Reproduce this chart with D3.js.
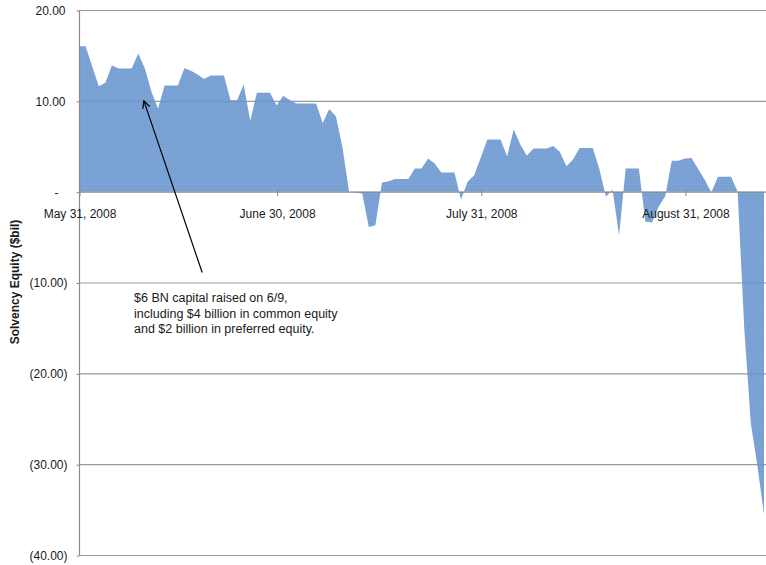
<!DOCTYPE html>
<html>
<head>
<meta charset="utf-8">
<script src="https://cdn.jsdelivr.net/npm/d3@7"></script>
<style>
    body { margin: 0; background: #fff; }
    text { font-family: "Liberation Sans", Arial, sans-serif; fill: #1a1a1a; }
</style>
</head>
<body>
<svg id="solvency-chart"></svg>
<script>
const CHART_WIDTH = 766;
const CHART_HEIGHT = 565;

const PADDING = {
    top: 10,
    bottom: 10,
    start: 79,
    end: 2
};

const DAY_MS = 864e5;

// one value per calendar day, starting May 31, 2008
const START_DATE = "2008-05-31";
const SOLVENCY_EQUITY = [
    16.0, 16.0, 13.8, 11.6, 12.0, 13.9, 13.55, 13.55, 13.55, 15.2,
    13.55, 11.0, 9.15, 11.7, 11.7, 11.7, 13.6, 13.3, 12.9, 12.4,
    12.8, 12.8, 12.8, 10.07, 10.07, 11.8, 7.8, 10.9, 10.9, 10.9,
    9.5, 10.55, 10.1, 9.7, 9.7, 9.7, 9.7, 7.57, 9.1, 8.3,
    4.9, 0.0, -0.1, -0.2, -3.9, -3.7, 1.0, 1.15, 1.4, 1.4,
    1.4, 2.55, 2.55, 3.65, 3.1, 2.1, 2.1, 2.1, -0.86, 1.08,
    1.8, 3.77, 5.74, 5.74, 5.74, 3.9, 6.84, 5.2, 3.95, 4.75,
    4.75, 4.75, 5.04, 4.4, 2.8, 3.54, 4.82, 4.82, 4.82, 2.5,
    -0.57, 0.24, -4.8, 2.55, 2.55, 2.55, -3.3, -3.4, -1.67, -0.5,
    3.39, 3.39, 3.65, 3.7, 2.5, 1.3, -0.1, 1.63, 1.63, 1.63,
    0.0, -15.0, -25.5, -30.2, -35.5
];

const X_TICK_DATES = ["2008-05-31", "2008-06-30", "2008-07-31", "2008-08-31"];
const Y_TICKS = [20, 10, 0, -10, -20, -30, -40];

const ANNOTATION_LINES = [
    "$6 BN capital raised on 6/9,",
    "including $4 billion in common equity",
    "and $2 billion in preferred equity."
];

const parseDate = d3.utcParse("%Y-%m-%d");
const startDate = parseDate(START_DATE);

const chartData = SOLVENCY_EQUITY.map((value, index) => ({
    date: d3.utcDay.offset(startDate, index),
    value: value
}));

function dayAt(days) {
    return new Date(startDate.getTime() + days * DAY_MS);
}

function formatAccounting(value) {
    if (value === 0) return "-";
    const text = d3.format(",.2f")(Math.abs(value));
    return value < 0 ? `(${text})` : text;
}

function renderChart() {
    const svg = d3.select("#solvency-chart")
        .attr("width", CHART_WIDTH)
        .attr("height", CHART_HEIGHT);

    const xScale = d3.scaleUtc()
        .domain(d3.extent(chartData, data => data.date))
        .range([PADDING.start, 764]);

    const yScale = d3.scaleLinear()
        .domain([-40, 20])
        .range([555, PADDING.top]);

    // fine mesh texture like the original fill
    const defs = svg.append("defs");
    const pattern = defs.append("pattern")
        .attr("id", "mesh")
        .attr("patternUnits", "userSpaceOnUse")
        .attr("width", 3)
        .attr("height", 3);
    pattern.append("rect")
        .attr("width", 3)
        .attr("height", 3)
        .attr("fill", "#6a97d0");
    pattern.append("path")
        .attr("d", "M0,0.5H3M0.5,0V3")
        .attr("stroke", "#5c8bc8")
        .attr("stroke-width", 1)
        .attr("stroke-opacity", 0.35);

    // gridlines
    svg.append("g")
        .classed("grid", true)
        .selectAll("line")
        .data(Y_TICKS.filter(tick => tick !== 0))
        .join("line")
            .attr("x1", PADDING.start)
            .attr("x2", CHART_WIDTH)
            .attr("y1", data => yScale(data) + 0.5)
            .attr("y2", data => yScale(data) + 0.5)
            .attr("stroke", "#9a9a9a")
            .attr("stroke-width", 1.2);

    const area = d3.area()
        .x(data => xScale(data.date))
        .y0(yScale(0))
        .y1(data => yScale(data.value));

    svg.append("path")
        .datum(chartData)
        .attr("d", area)
        .attr("fill", "url(#mesh)")
        .attr("fill-opacity", 0.88);

    // y axis
    const yAxis = d3.axisLeft(yScale)
        .tickValues(Y_TICKS)
        .tickSize(3)
        .tickPadding(11)
        .tickFormat(formatAccounting);

    const yAxisGroup = svg.append("g")
        .classed("y-axis", true)
        .attr("transform", `translate(${PADDING.start + 0.5}, 0.5)`)
        .call(yAxis);
    yAxisGroup.select(".domain")
        .attr("d", `M0,${yScale(20)}V${yScale(-40)}`)
        .attr("stroke", "#8c8c8c")
        .attr("stroke-width", 1.2);
    yAxisGroup.selectAll(".tick line")
        .attr("stroke", "#8c8c8c");
    yAxisGroup.selectAll(".tick text")
        .attr("x", data => data > 0 ? -14 : (data === 0 ? -21 : -12))
        .style("font-size", "12px")
        .style("font-family", "Liberation Sans, Arial, sans-serif")
        .attr("fill", "#1a1a1a");

    // x axis sits on zero
    const xAxis = d3.axisBottom(xScale)
        .tickValues(X_TICK_DATES.map(parseDate))
        .tickSize(4)
        .tickPadding(13)
        .tickFormat(d3.utcFormat("%B %-d, %Y"));

    const xAxisGroup = svg.append("g")
        .classed("x-axis", true)
        .attr("transform", `translate(0.5, ${yScale(0) + 0.5})`)
        .call(xAxis);
    xAxisGroup.select(".domain")
        .attr("d", `M${PADDING.start},0H${CHART_WIDTH}`)
        .attr("stroke", "#8c8c8c")
        .attr("stroke-width", 1.2);
    xAxisGroup.selectAll(".tick line")
        .attr("y1", -3)
        .attr("stroke", "#8c8c8c");
    xAxisGroup.selectAll(".tick text")
        .style("font-size", "12px")
        .style("font-family", "Liberation Sans, Arial, sans-serif")
        .attr("fill", "#1a1a1a");

    svg.append("text")
        .attr("transform", "rotate(-90)")
        .attr("x", -282)
        .attr("y", 19)
        .style("text-anchor", "middle")
        .style("font-size", "12px")
        .style("font-weight", "bold")
        .text("Solvency Equity ($bil)");

    // annotation arrow from the note up to the 6/9 capital raise
    const tip = [xScale(dayAt(9.85)), yScale(10.0)];
    const tail = [xScale(dayAt(18.7)), yScale(-8.9)];

    defs.append("marker")
        .attr("id", "arrow-head")
        .attr("viewBox", "0 0 10 10")
        .attr("refX", 9)
        .attr("refY", 5)
        .attr("markerWidth", 9)
        .attr("markerHeight", 9)
        .attr("markerUnits", "userSpaceOnUse")
        .attr("orient", "auto")
        .append("path")
            .attr("d", "M1,1L9,5L1,9")
            .attr("fill", "none")
            .attr("stroke", "#000")
            .attr("stroke-width", 1.4);

    svg.append("line")
        .attr("x1", tail[0])
        .attr("y1", tail[1])
        .attr("x2", tip[0])
        .attr("y2", tip[1])
        .attr("stroke", "#000")
        .attr("stroke-width", 1.2)
        .attr("marker-end", "url(#arrow-head)");

    svg.append("text")
        .selectAll("tspan")
        .data(ANNOTATION_LINES)
        .join("tspan")
            .attr("x", 134)
            .attr("y", (data, index) => 302 + index * 15.5)
            .style("font-size", "12.5px")
            .text(data => data);
}

renderChart();
</script>
</body>
</html>
